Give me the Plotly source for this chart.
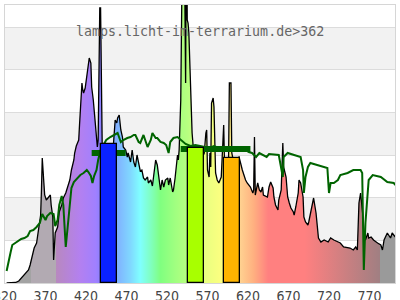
import plotly.graph_objects as go

# ---- data ----
wavelength = [322, 327, 333, 337, 339, 342, 345, 349, 351, 354, 356, 359, 361, 364, 365, 366, 368, 369, 371, 374,
              376, 377, 379, 380, 381, 382, 385, 387, 390, 392, 395, 397, 400, 402, 405, 406, 407, 408, 410, 411,
              412, 413, 415, 416, 417, 419, 422, 423, 424, 426, 427, 429, 431, 433, 434, 435, 437, 438, 439, 440,
              441, 444, 446, 449, 451, 454, 456, 458, 459, 461, 462, 463, 465, 466, 469, 471, 472, 475, 477, 479,
              481, 483, 485, 487, 489, 491, 493, 496, 497, 500, 502, 503, 506, 508, 510, 512, 514, 516, 518, 521,
              522, 524, 527, 528, 530, 533, 534, 535, 537, 538, 539, 540, 541, 543, 544, 545, 546, 547, 549, 550,
              551, 553, 555, 558, 560, 563, 565, 566, 568, 569, 570, 572, 573, 574, 575, 577, 578, 579, 580, 582,
              584, 587, 588, 589, 590, 591, 594, 596, 597, 599, 600, 602, 605, 607, 609, 613, 614, 617, 619, 623,
              626, 627, 628, 629, 632, 634, 636, 638, 639, 644, 646, 648, 651, 652, 654, 657, 658, 661, 663, 664,
              667, 669, 671, 673, 676, 677, 679, 682, 683, 685, 688, 689, 691, 694, 695, 698, 700, 701, 704, 706,
              707, 710, 714, 719, 722, 726, 731, 734, 738, 743, 746, 750, 753, 755, 757, 759, 762, 763, 765, 768,
              769, 772, 775, 780, 784, 786, 788, 792, 796, 798, 802]
lamp = [0, 0, 0.5, 2, 4, 6, 9, 13, 18, 28, 35, 40, 50, 68, 93, 125, 100, 88, 83, 86,
        88, 78, 66, 23, 38, 50, 56, 71, 78, 85, 90, 95, 103, 113, 123, 130, 135, 137, 141, 143,
        158, 173, 200, 193, 190, 195, 216, 223, 225, 220, 196, 183, 166, 150, 136, 143, 275, 275, 183, 138,
        135, 130, 128, 133, 130, 140, 163, 160, 165, 168, 158, 153, 146, 136, 133, 126, 130, 121, 133, 121,
        116, 128, 120, 112, 113, 105, 103, 106, 100, 103, 97, 103, 123, 118, 106, 93, 103, 96, 103, 105,
        98, 105, 91, 93, 105, 128, 123, 133, 183, 400, 420, 420, 380, 200, 400, 263, 260, 250, 186, 180,
        150, 130, 125, 128, 125, 122, 128, 130, 150, 153, 113, 106, 130, 116, 180, 185, 176, 125, 110, 103,
        100, 106, 126, 130, 158, 120, 118, 120, 200, 200, 130, 122, 120, 125, 126, 113, 110, 103, 100, 96,
        90, 93, 146, 88, 100, 93, 91, 96, 88, 86, 96, 101, 95, 86, 78, 73, 83, 93, 140, 116,
        106, 86, 80, 75, 71, 68, 76, 90, 103, 100, 86, 66, 61, 58, 61, 73, 83, 85, 70, 56,
        45, 41, 43, 41, 45, 43, 41, 40, 36, 35, 35, 33, 36, 33, 80, 90, 66, 50, 43, 50,
        45, 46, 43, 40, 38, 33, 43, 50, 45, 50, 46]

day_wavelength = [322, 324, 327, 329, 333, 337, 340, 344, 348, 351, 355, 359, 363, 366, 370, 372, 376, 380, 382, 385,
                  387, 390, 392, 395, 397, 400, 402, 405, 407, 410, 413, 417, 421, 423, 426, 428, 430, 433, 435, 438,
                  442, 445, 450, 454, 459, 463, 466, 471, 475, 479, 481, 485, 487, 491, 496, 500, 502, 506, 508, 512,
                  516, 519, 522, 524, 528, 533, 537, 543, 549, 555, 561, 566, 572, 578, 584, 590, 597, 603, 609, 615,
                  621, 625, 630, 634, 643, 646, 655, 658, 663, 664, 669, 676, 685, 688, 689, 691, 694, 697, 706, 713,
                  718, 720, 722, 726, 731, 734, 743, 750, 759, 761, 762, 763, 765, 768, 769, 774, 784, 792, 800, 802]
daylight = [12, 21, 31, 38, 40, 42, 44, 45, 47, 52, 53, 56, 60, 69, 63, 67, 70, 69, 57, 63,
            78, 87, 78, 36, 53, 78, 95, 101, 103, 106, 108, 110, 113, 111, 107, 100, 107, 113, 123, 133,
            138, 143, 146, 148, 150, 141, 143, 145, 146, 148, 148, 141, 140, 148, 136, 143, 150, 145, 145, 141,
            140, 138, 130, 141, 145, 146, 143, 139, 137, 138, 137, 136, 135, 137, 135, 134, 135, 134, 133, 134,
            131, 130, 126, 130, 126, 129, 128, 128, 106, 126, 130, 128, 126, 113, 90, 106, 116, 120, 118, 116,
            115, 90, 100, 100, 103, 108, 110, 113, 113, 110, 66, 13, 60, 93, 103, 108, 106, 101, 100, 98]

band_start = [427, 537]
band_end = [469, 623]
band_level = [130, 134]

bar_center = [448, 556.25, 600.5]
bar_width = [20, 19.5, 20]
bar_height = [139, 135, 125]
bar_colors = ["#0a22ff", "#a8ff00", "#ffb400"]

tick_values = [320, 370, 420, 470, 520, 570, 620, 670, 720, 770]
tick_labels = ["320", "370", "420", "470", "520", "570", "620", "670", "720", "770"]

# spectral fill colours (wavelength -> colour)
grad_nm = [320, 352, 352.6, 383, 383.6, 413, 432, 437, 458, 475, 487, 500, 512, 530, 546, 566, 590, 611, 627, 645,
           690, 783, 783.6, 805]
grad_col = ["#a3a3a3", "#a3a3a3", "#b2aab2", "#b2aab2", "#b888c0", "#b380f0", "#a080ff", "#9080ff", "#80b0ff",
            "#80d8ff", "#80ffff", "#80ffc0", "#80ff80", "#a0ff80", "#b8ff80", "#e8ff80", "#ffff80", "#ffd090",
            "#ffb080", "#ff8080", "#ff8080", "#a07f82", "#9a9a9a", "#9a9a9a"]
g0, g1 = grad_nm[0], grad_nm[-1]
colorscale = [[(n - g0) / (g1 - g0), c] for n, c in zip(grad_nm, grad_col)]

GRID = 42.65
YMAX = 278

fig = go.Figure()
fig.add_trace(go.Scatter(
    x=wavelength, y=lamp, mode="lines", fill="tozeroy",
    fillgradient=dict(type="horizontal", colorscale=colorscale, start=g0, stop=g1),
    line=dict(color="black", width=1.3), hoverinfo="skip"))
fig.add_trace(go.Scatter(x=day_wavelength, y=daylight, mode="lines",
                         line=dict(color="#006400", width=2), hoverinfo="skip"))
for s, e, lv in zip(band_start, band_end, band_level):
    fig.add_trace(go.Scatter(x=[s, e], y=[lv, lv], mode="lines",
                             line=dict(color="#006400", width=6), hoverinfo="skip"))
fig.add_trace(go.Bar(x=bar_center, y=bar_height, width=bar_width, base=0,
                     marker=dict(color=bar_colors, line=dict(color="black", width=1.3)),
                     xaxis="x2", yaxis="y2", hoverinfo="skip"))

shapes = []
for k in (1, 3, 5):
    shapes.append(dict(type="rect", xref="paper", yref="y", x0=0, x1=1, y0=k * GRID, y1=(k + 1) * GRID,
                       fillcolor="#f2f2f2", line=dict(width=0), layer="below"))

fig.update_layout(
    width=400, height=300,
    margin=dict(l=5, r=5, t=5, b=17, pad=0),
    paper_bgcolor="white", plot_bgcolor="white",
    showlegend=False, bargap=0,
    shapes=shapes,
    xaxis=dict(range=[320, 801.5], tickvals=tick_values, ticktext=tick_labels, showgrid=False,
               showline=True, mirror=True, linecolor="#d6d6d6", linewidth=1, ticks="", zeroline=False,
               ticklabeloverflow="allow",
               tickfont=dict(family="Liberation Sans Narrow, DejaVu Sans Condensed, Liberation Sans",
                             size=14, color="#444444"),
               automargin=False),
    yaxis=dict(range=[0, YMAX], tick0=0, dtick=GRID, showticklabels=False, showgrid=True,
               gridcolor="#dcdcdc", gridwidth=1, showline=True, mirror=True, linecolor="#d6d6d6",
               zeroline=False, automargin=False),
    xaxis2=dict(matches="x", overlaying="x", visible=False, anchor="y2"),
    yaxis2=dict(matches="y", overlaying="y", visible=False, anchor="x2"),
    annotations=[dict(text="lamps.licht-im-terrarium.de>362", xref="paper", yref="paper", x=0.5, y=0.906,
                      xanchor="center", yanchor="middle", showarrow=False,
                      font=dict(family="DejaVu Sans Mono", size=13.3, color="#666666"))],
)

fig.write_html("out.html")
